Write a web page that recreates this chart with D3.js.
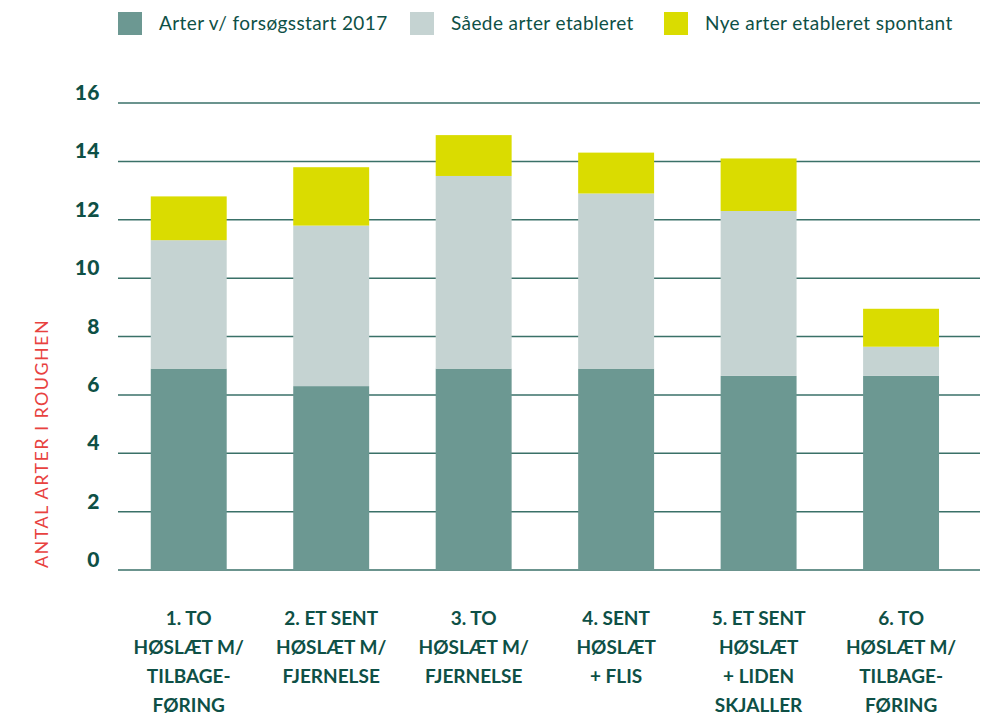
<!DOCTYPE html>
<meta charset="utf-8">
<script src="https://d3js.org/d3.v7.min.js"></script>
<style>
  body { margin: 0; background: #fff; }
  text { font-family: Lato, "Open Sans", sans-serif; }
</style>
<div id="my_dataviz"></div>
<script>

  // data
  var categories = [
    ["1. TO", "HØSLÆT M/", "TILBAGE-", "FØRING"],
    ["2. ET SENT", "HØSLÆT M/", "FJERNELSE"],
    ["3. TO", "HØSLÆT M/", "FJERNELSE"],
    ["4. SENT", "HØSLÆT", "+ FLIS"],
    ["5. ET SENT", "HØSLÆT", "+ LIDEN", "SKJALLER"],
    ["6. TO", "HØSLÆT M/", "TILBAGE-", "FØRING"]
  ];
  var seriesNames = ["Arter v/ forsøgsstart 2017", "Såede arter etableret", "Nye arter etableret spontant"];
  var startArter = [6.9, 6.3, 6.9, 6.9, 6.65, 6.65];
  var saaedeArter = [4.4, 5.5, 6.6, 6.0, 5.65, 1.0];
  var nyeArter = [1.5, 2.0, 1.4, 1.4, 1.8, 1.3];
  var yTicks = [0, 2, 4, 6, 8, 10, 12, 14, 16];
  var yTitle = "ANTAL ARTER I ROUGHEN";

  var colors = ["#6c9892", "#c5d3d2", "#dadc00"];
  var textColor = "#0e5046";

  var width = 996, height = 715;

  var svg = d3.select("#my_dataviz")
    .append("svg")
      .attr("width", width)
      .attr("height", height);

  // scales
  var x = d3.scaleBand()
      .domain(d3.range(categories.length))
      .range([117.5, 972.3])
      .paddingInner(0.467)
      .paddingOuter(0.2335);

  var y = d3.scaleLinear()
      .domain([0, 16])
      .range([570, 103]);

  // gridlines
  svg.append("g")
    .selectAll("line")
    .data(yTicks)
    .enter().append("line")
      .attr("x1", 118)
      .attr("x2", 980)
      .attr("y1", function(d) { return y(d); })
      .attr("y2", function(d) { return y(d); })
      .attr("stroke", "#3a7168")
      .attr("stroke-width", 1.5);

  // tick labels (sit just above their line)
  svg.append("g")
    .selectAll("text")
    .data(yTicks)
    .enter().append("text")
      .attr("x", 100)
      .attr("y", function(d) { return y(d) - 3; })
      .attr("text-anchor", "end")
      .attr("font-size", 21)
      .attr("font-weight", 900)
      .attr("letter-spacing", 0.5)
      .attr("fill", textColor)
      .text(function(d) { return d; });

  // stack the series
  var rows = categories.map(function(c, i) {
    return { i: i, a: startArter[i], b: saaedeArter[i], c: nyeArter[i] };
  });
  var stack = d3.stack().keys(["a", "b", "c"]);
  var layers = stack(rows);

  svg.append("g")
    .selectAll("g")
    .data(layers)
    .enter().append("g")
      .attr("fill", function(d, i) { return colors[i]; })
    .selectAll("rect")
    .data(function(d) { return d; })
    .enter().append("rect")
      .attr("x", function(d) { return x(d.data.i); })
      .attr("width", x.bandwidth())
      .attr("y", function(d) { return y(d[1]); })
      .attr("height", function(d) { return y(d[0]) - y(d[1]); });

  // category labels
  var catG = svg.append("g")
    .selectAll("text")
    .data(categories)
    .enter().append("text")
      .attr("text-anchor", "middle")
      .attr("font-size", 19)
      .attr("font-weight", 700)
      .attr("fill", textColor)
      .attr("transform", function(d, i) { return "translate(" + (x(i) + x.bandwidth() / 2) + ",625)"; });
  catG.selectAll("tspan")
    .data(function(d) { return d; })
    .enter().append("tspan")
      .attr("x", 0)
      .attr("y", function(d, j) { return j * 29; })
      .text(function(d) { return d; });

  // y axis title
  svg.append("text")
    .attr("transform", "translate(48,568) rotate(-90)")
    .attr("font-size", 18)
    .attr("font-weight", 400)
    .attr("letter-spacing", 1.4)
    .attr("fill", "#e8423f")
    .text(yTitle);

  // legend
  var legendX = [118, 410, 664];
  var legend = svg.append("g")
    .selectAll("g")
    .data(seriesNames)
    .enter().append("g")
      .attr("transform", function(d, i) { return "translate(" + legendX[i] + ",0)"; });
  legend.append("rect")
    .attr("y", 12)
    .attr("width", 24)
    .attr("height", 23)
    .attr("fill", function(d, i) { return colors[i]; });
  legend.append("text")
    .attr("x", 41)
    .attr("y", 30)
    .attr("font-size", 19)
    .attr("letter-spacing", 0.4)
    .attr("fill", textColor)
    .text(function(d) { return d; });

</script>
